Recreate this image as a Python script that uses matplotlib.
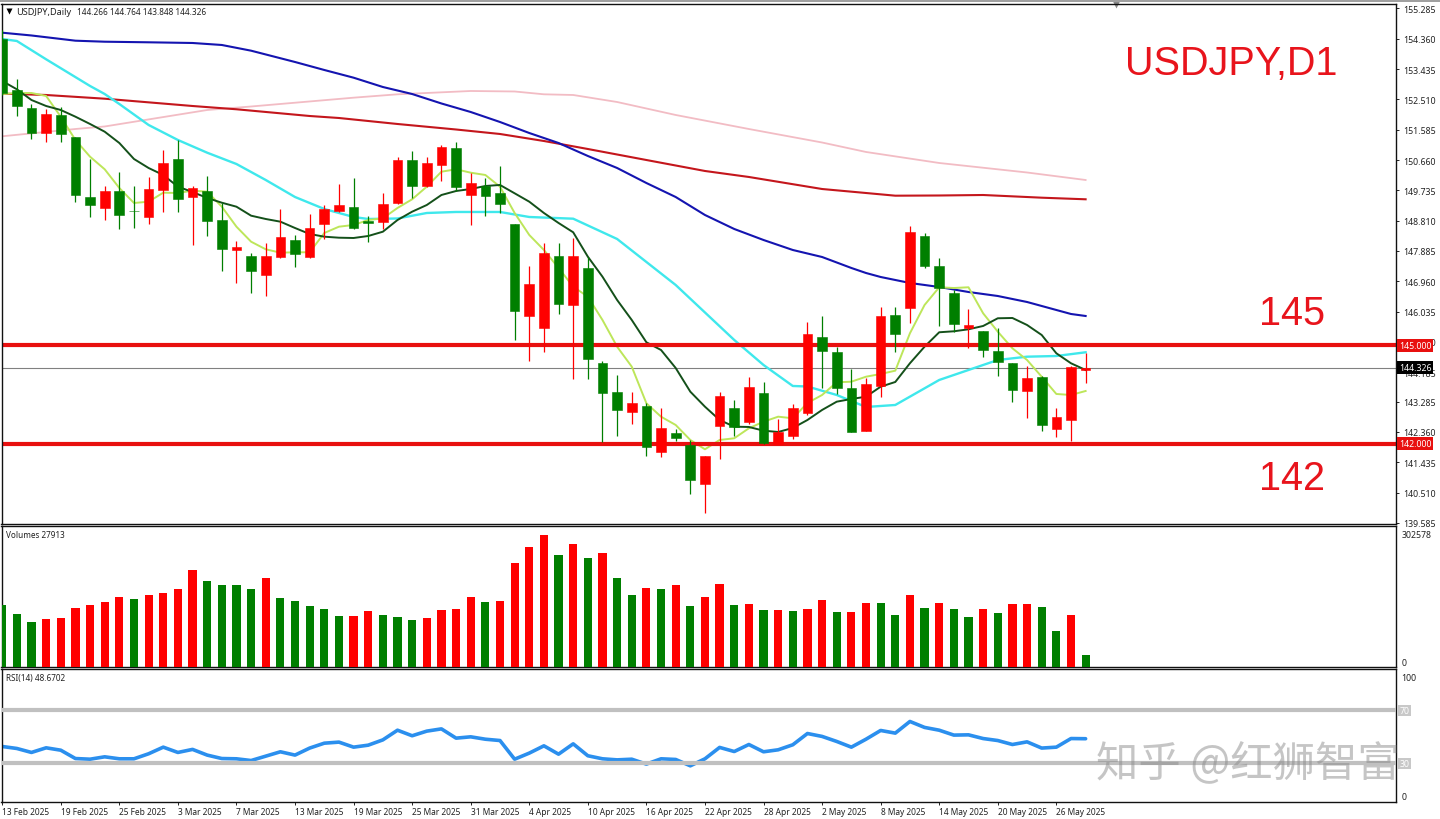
import numpy as np
import matplotlib as mpl
mpl.use('Agg')
import matplotlib.pyplot as pl
from matplotlib.patches import Rectangle
from matplotlib.transforms import blended_transform_factory as blend

# ohlc, one row per daily bar
ohlc = [
	[154.353,154.627,152.644,152.705],[152.797,153.132,152.003,152.308],[152.247,152.369,151.301,151.484],
	[151.484,152.217,151.210,152.064],[152.034,152.278,151.210,151.454],[151.362,151.362,149.379,149.592],
	[149.531,150.691,148.921,149.287],[149.196,149.867,148.830,149.714],[149.714,150.294,148.555,148.982],
	[149.119,149.867,148.585,149.089],[148.921,150.142,148.707,149.775],[149.745,150.966,149.074,150.569],
	[150.691,151.271,149.074,149.470],[149.531,149.867,148.067,149.806],[149.714,150.172,148.341,148.799],
	[148.830,149.348,147.273,147.944],[147.914,148.189,146.907,148.006],[147.731,147.822,146.602,147.273],
	[147.151,148.128,146.510,147.731],[147.700,149.165,147.669,148.311],[148.219,148.372,147.395,147.792],
	[147.700,149.012,147.669,148.585],[148.707,149.287,148.250,149.165],[149.104,149.928,149.074,149.287],
	[149.226,150.111,148.555,148.585],[148.799,148.951,148.158,148.738],[148.768,149.653,148.555,149.318],
	[149.348,150.752,149.318,150.660],[150.660,150.935,149.501,149.867],[149.867,150.752,149.836,150.569],
	[150.508,151.118,150.020,151.057],[151.027,151.210,149.714,149.836],[149.592,150.264,148.677,149.958],
	[149.867,150.111,148.951,149.562],[149.653,150.477,149.043,149.318],[148.707,148.707,145.168,146.052],
	[145.900,147.426,144.527,146.876],[145.534,148.128,144.801,147.822],[147.731,148.128,145.961,146.266],
	[146.236,148.280,143.977,147.731],[147.365,147.700,143.977,144.588],[144.466,144.527,142.055,143.550],
	[143.581,144.100,142.238,143.032],[142.970,143.581,142.604,143.245],[143.154,143.245,141.628,141.902],
	[141.750,143.093,141.597,142.482],[142.329,142.452,142.085,142.177],[141.963,142.116,140.468,140.895],
	[140.773,141.628,139.888,141.628],[142.543,143.581,141.536,143.459],[143.093,143.337,142.238,142.513],
	[142.665,144.038,142.604,143.733],[143.550,143.886,141.994,142.024],[141.994,142.757,141.994,142.360],
	[142.238,143.215,142.146,143.093],[142.940,145.717,142.879,145.351],[145.259,145.900,143.703,144.832],
	[144.801,144.954,143.520,143.703],[143.703,144.283,142.360,142.360],[142.391,144.008,142.391,143.825],
	[143.764,146.175,143.428,145.900],[145.930,146.175,144.801,145.351],[146.144,148.646,145.686,148.463],
	[148.341,148.433,147.365,147.426],[147.426,147.670,145.595,146.755],[146.602,146.693,145.412,145.656],
	[145.534,146.114,144.923,145.625],[145.442,145.442,144.649,144.862],[144.832,145.534,144.069,144.496],
	[144.466,144.466,143.276,143.642],[143.611,144.374,142.787,144.008],[144.038,144.069,142.391,142.574],
	[142.452,143.093,142.208,142.818],[142.726,144.374,142.085,144.344],[144.266,144.764,143.848,144.326]]

# moving averages, every bar for the two fast ones
maLime = [152.674,152.705,152.705,152.614,151.982,151.271,150.761,150.377,149.806,149.348,149.388,149.663,149.653,149.724,149.693,
	149.235,148.625,148.167,147.935,147.832,147.844,147.844,148.433,148.625,148.677,148.829,148.881,149.196,149.461,149.846,
	150.303,150.377,150.273,150.203,149.846,149.043,148.372,147.914,147.365,146.794,146.489,145.778,144.963,144.353,143.236,
	142.827,142.574,142.116,141.832,142.116,142.168,142.473,142.674,142.827,142.778,143.245,143.489,143.877,143.895,144.047,
	144.130,144.231,145.372,146.236,146.776,146.754,146.776,145.982,145.421,144.914,144.557,144.047,143.520,143.489,143.611]
maDark = [153.071,152.818,152.491,152.308,152.186,151.982,151.759,151.524,151.179,150.691,150.416,150.203,149.846,149.684,149.501,
	149.357,149.235,148.961,148.860,148.778,148.585,148.402,148.320,148.289,148.280,148.341,148.472,148.829,149.083,149.287,
	149.592,149.714,149.775,149.867,149.898,149.644,149.388,149.043,148.738,148.454,147.710,147.099,146.388,145.778,145.097,
	144.862,144.313,143.590,143.132,142.726,142.522,142.513,142.400,142.360,142.482,142.726,143.032,143.285,143.367,143.437,
	143.742,143.886,144.457,144.963,145.403,145.433,145.494,145.595,145.830,145.839,145.625,145.320,144.762,144.457,144.252]

# slow ones only read at the bars listed
cyanBars = [0,1,3,6,7,8,10,12,14,16,18,20,22,24,25,27,29,31,34,36,39,42,46,50,52,54,55,57,59,61,64,68,70,72,74]
maCyan = [154.353,154.292,153.733,152.919,152.674,152.369,151.729,151.271,150.883,150.538,150.050,149.531,149.165,148.921,148.860,
	148.875,149.043,149.074,149.074,148.921,148.869,148.250,146.846,145.168,144.405,143.764,143.748,143.489,143.123,143.184,
	143.947,144.557,144.658,144.679,144.792]
blueBars = [0,2,5,7,10,13,15,17,20,22,24,26,28,30,32,34,36,38,40,42,44,46,48,50,52,54,56,58,59,60,62,64,66,68,70,72,73,74]
maBlue = [154.545,154.460,154.301,154.270,154.252,154.231,154.170,153.996,153.651,153.407,153.172,152.888,152.674,152.385,152.125,
	151.820,151.484,151.179,150.783,150.416,149.958,149.531,148.982,148.555,148.219,147.914,147.700,147.365,147.212,147.090,
	146.907,146.785,146.632,146.510,146.327,146.083,145.961,145.900]
redBars = [0,3,7,13,16,21,23,27,31,34,37,40,44,48,51,56,59,61,64,67,71,74]
maRed = [152.684,152.644,152.531,152.308,152.208,152.003,151.942,151.759,151.591,151.454,151.240,150.996,150.660,150.325,150.142,
	149.775,149.653,149.571,149.577,149.592,149.510,149.461]
pinkBars = [0,5,7,14,17,24,27,32,35,37,39,42,46,51,56,59,64,70,74]
maPink = [151.384,151.606,151.683,152.186,152.293,152.562,152.665,152.766,152.751,152.665,152.644,152.430,152.034,151.606,151.194,
	150.905,150.569,150.279,150.050]

volumes = [135563,116042,97967,105920,108089,129779,135563,142070,153638,147854,157976,161591,169544,211478,187619,
	179666,178943,169544,193403,151469,143516,133394,126164,111704,111704,121826,113873,109535,102305,108089,
	123995,126164,153638,142070,143516,226661,260642,286670,243290,267149,237506,249074,193403,157253,173159,
	169544,179666,133394,153638,181112,135563,137732,123995,123995,121826,126164,145685,119657,119657,139901,
	139178,113873,157253,129779,139901,127610,109535,126164,117488,137732,137732,131948,79892,113873,27913]
rsi = [42.8,41.3,38.3,41.8,40.0,33.7,33.2,35.0,33.5,33.5,37.3,42.3,38.3,40.6,36.3,33.7,33.5,32.2,35.5,38.8,36.3,41.6,45.3,46.1,42.3,
	43.8,47.8,55.1,50.9,54.4,56.1,49.1,50.1,48.3,47.3,33.2,37.8,43.3,37.0,44.8,35.8,33.5,32.7,33.2,29.5,33.5,33.0,28.2,33.5,42.1,
	39.0,44.3,38.8,40.3,44.1,52.6,50.4,46.6,42.3,48.3,54.9,52.9,61.7,57.2,55.1,51.4,51.6,48.8,47.3,44.3,46.3,41.6,42.3,48.8,48.67]

dateLabels = ['13 Feb 2025','19 Feb 2025','25 Feb 2025','3 Mar 2025','7 Mar 2025','13 Mar 2025','19 Mar 2025','25 Mar 2025',
	'31 Mar 2025','4 Apr 2025','10 Apr 2025','16 Apr 2025','22 Apr 2025','28 Apr 2025','2 May 2025','8 May 2025','14 May 2025',
	'20 May 2025','26 May 2025']
priceTicks = [155.285,154.360,153.435,152.510,151.585,150.660,149.735,148.810,147.885,146.960,146.035,145.110,144.185,143.285,
	142.360,141.435,140.510,139.585]
levels = [145.0,142.0]
lastPrice = 144.326

W,H = 1440.,820.
UP,DOWN = '#ff0000','#007f00'
LINERED = '#e8100f'
tickFont = {'family':'Noto Sans','fontsize':6.3,'color':'#222222'}

def pane(top,bottom):
	ax = f.add_axes([1.5/W,1-bottom/H,(1396-1.5)/W,(bottom-top)/H])
	ax.set_xlim(-0.048,95.2)
	ax.yaxis.tick_right()
	ax.set_xticks([])
	for s in ax.spines.values():
		s.set_linewidth(1)
		s.set_color('#111111')
	ax.tick_params(axis='y',length=2.5,width=0.7,pad=2.5,color='#222222')
	return ax

f = pl.figure(figsize=(W/100,H/100),dpi=100,facecolor='white')
f.add_artist(Rectangle((0,1-3./H),1,3./H,transform=f.transFigure,fc='#a0a0a0',ec='none'))

# price pane
ax = pane(4.5,525)
ax.set_ylim(139.552,155.436)
ohlc = np.array(ohlc)
bars = np.arange(len(ohlc))
ax.plot(pinkBars,maPink,color='#f2bcc4',lw=1.3,zorder=2)
ax.plot(redBars,maRed,color='#c4161c',lw=1.5,zorder=2)
ax.plot(blueBars,maBlue,color='#1414b0',lw=1.5,zorder=2)
ax.plot(cyanBars,maCyan,color='#3fe8ec',lw=1.7,zorder=2)
ax.plot(bars,maLime,color='#bde65a',lw=1.4,zorder=2)
ax.plot(bars,maDark,color='#14501a',lw=1.4,zorder=2.1)
ax.axhline(lastPrice,color='#808080',lw=0.8,zorder=1.5)
for lv in levels:
	ax.axhline(lv,color=LINERED,lw=3,zorder=2.5)
for i,(o,h,l,c) in enumerate(ohlc):
	col = UP if c >= o else DOWN
	ax.vlines(i,l,h,color=col,lw=0.9,zorder=3)
	ax.bar(i,abs(c-o),bottom=min(o,c),width=0.66,color=col,edgecolor=col,lw=0.4,zorder=3.1)
ax.set_yticks(priceTicks)
ax.set_yticklabels(['%.3f'%p for p in priceTicks],**tickFont)

tr = blend(ax.transAxes,ax.transData)
for lv in levels:
	ax.text(1.002,lv,'%.3f'%lv,transform=tr,color='white',va='center',ha='left',family='Noto Sans',fontsize=6.3,
		bbox=dict(fc=LINERED,ec='none',pad=1.4),zorder=6,clip_on=False)
ax.text(1.002,lastPrice,'%.3f'%lastPrice,transform=tr,color='white',va='center',ha='left',family='Noto Sans',fontsize=6.3,
	bbox=dict(fc='black',ec='none',pad=1.4),zorder=6,clip_on=False)

bigFont = {'family':'Liberation Sans','fontsize':28.5,'color':'#e8141c','va':'center','ha':'left'}
f.text(1125/W,1-63.5/H,'USDJPY,D1',**bigFont)
f.text(1259/W,1-314/H,'145',**bigFont)
f.text(1259/W,1-479/H,'142',**bigFont)

f.text(16/W,1-12.5/H,'USDJPY,Daily',family='Noto Sans',fontsize=6.6,color='#222222',va='center')
f.text(77/W,1-12.5/H,'144.266 144.764 143.848 144.326',family='Noto Sans',fontsize=5.95,color='#222222',va='center')
ax.plot([0.0054],[1-(11.5-4.5)/520.5],marker='v',ms=4,color='black',mec='none',transform=ax.transAxes,clip_on=False)
ax.plot([0.7994],[1-(2-4.5)/520.5-0.0048],marker='v',ms=7,color='#888888',mec='none',transform=ax.transAxes,clip_on=False)

# volume pane
ax2 = pane(527.3,668.3)
ax2.set_ylim(470,306170)
volCols = [DOWN]+[UP if volumes[i] >= volumes[i-1] else DOWN for i in range(1,len(volumes))]
ax2.bar(np.arange(len(volumes)),volumes,width=0.56,color=volCols,zorder=3)
ax2.set_yticks([289500,13700])
ax2.set_yticklabels(['302578','0'],**tickFont)
ax2.tick_params(axis='y',length=0,pad=4)
ax2.text(4.5/1394.5,0.945,'Volumes 27913',transform=ax2.transAxes,family='Noto Sans',fontsize=5.9,color='#222222',va='center')

# rsi pane
ax3 = pane(670.3,802.7)
ax3.set_ylim(1.1,101.1)
ax3.plot(np.arange(len(rsi)),rsi,color='#2b8fee',lw=2.6,solid_capstyle='round',solid_joinstyle='round',zorder=2)
ax3.axhline(70,xmin=0.002,color='#c0c0c0',lw=3,zorder=3)
ax3.axhline(30,xmin=0.002,color='#c0c0c0',lw=3,zorder=3)
ax3.set_yticks([96,6])
ax3.set_yticklabels(['100','0'],**tickFont)
ax3.tick_params(axis='y',length=0,pad=4)
tr3 = blend(ax3.transAxes,ax3.transData)
for lv in [70,30]:
	ax3.text(1.0025,lv,str(lv),transform=tr3,color='white',va='center',ha='left',family='Noto Sans',fontsize=6.3,
		bbox=dict(fc='#c8c8c8',ec='none',pad=1.0),clip_on=False)
ax3.text(4.5/1394.5,0.94,'RSI(14) 48.6702',transform=ax3.transAxes,family='Noto Sans',fontsize=5.9,color='#222222',va='center')

ticks = np.arange(0,len(rsi),4)
ax3.set_xticks(ticks)
ax3.set_xticklabels(dateLabels,ha='left',family='Noto Sans',fontsize=6,color='#222222')
ax3.tick_params(axis='x',length=2.5,width=0.7,pad=1,color='#222222')

# watermark
f.text(1096/W,1-765/H,'知乎 @红狮智富',family=['Noto Sans CJK SC','DejaVu Sans'],fontsize=30.5,color='#8c8c8c',alpha=0.5,
	va='center',ha='left',zorder=10)

f.savefig('out.png',dpi=100)
